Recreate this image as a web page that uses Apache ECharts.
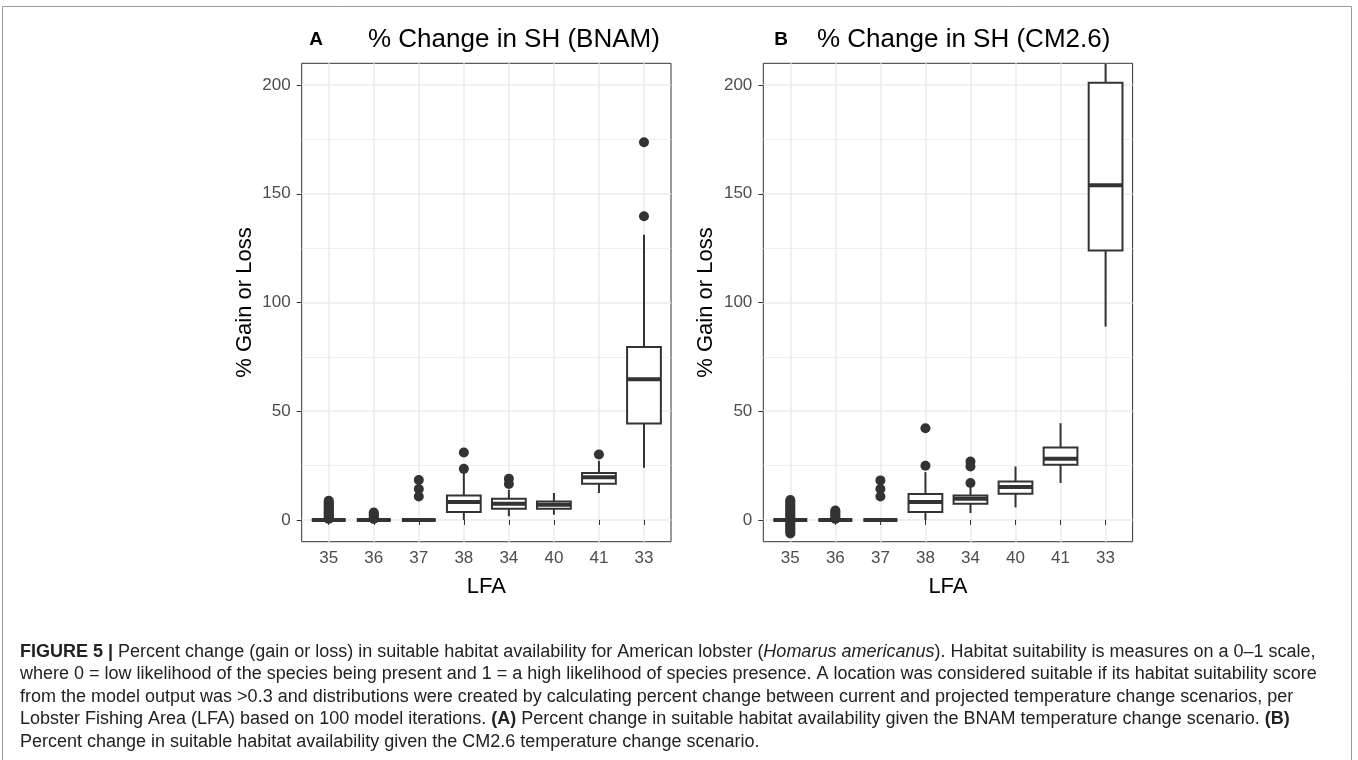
<!DOCTYPE html>
<html>
<head>
<meta charset="utf-8">
<title>Figure 5 - % Change in SH</title>
<script src="https://cdn.jsdelivr.net/npm/echarts@6/dist/echarts.min.js"></script>
<style>
  html, body { margin: 0; padding: 0; background: #fff; }
  #chart { width: 1358px; height: 760px; }
</style>
</head>
<body>
<div id="chart"></div>
<script>
// LFA order on the x axis
const lfa = ["35", "36", "37", "38", "34", "40", "41", "33"];
const yTicks = [0, 50, 100, 150, 200];
const yMinor = [25, 75, 125, 175];

// box stats per LFA: [lower whisker, q1, median, q3, upper whisker]
const boxBNAM = [
  [0, 0, 0, 0, 0],
  [0, 0, 0, 0, 0],
  [0, 0, 0, 0, 0],
  [0, 3.7, 8.3, 11.3, 21.6],
  [1.7, 5.2, 7.5, 9.8, 13.9],
  [2.4, 5.2, 7.0, 8.5, 12.4],
  [12.4, 16.7, 19.6, 21.6, 27.2],
  [24.0, 44.3, 64.7, 79.5, 131.2]
];
const boxCM26 = [
  [0, 0, 0, 0, 0],
  [0, 0, 0, 0, 0],
  [0, 0, 0, 0, 0],
  [0, 3.7, 8.3, 11.9, 22.0],
  [3.2, 7.5, 9.8, 11.3, 15.1],
  [5.8, 12.1, 15.1, 17.7, 24.6],
  [17.0, 25.4, 28.1, 33.3, 44.5],
  [88.9, 123.9, 153.9, 201.1, 210]
];

// outlier points per LFA
const outBNAM = [
  [0.5, 1.1, 1.6, 2.3, 2.9, 3.4, 4.1, 4.7, 5.2, 5.9, 6.5, 7.0, 7.7, 8.3, 8.8],
  [0.4, 1.2, 2.0, 2.7, 3.4],
  [10.8, 14.2, 18.4],
  [23.5, 31.0],
  [16.5, 18.9],
  [],
  [30.1],
  [139.7, 173.7]
];
const outCM26 = [
  [-6.2, -5.4, -4.6, -3.8, -3.0, -2.2, -1.4, -0.6, 0.6, 1.4, 2.2, 3.0, 3.8, 4.6, 5.4, 6.2, 7.0, 7.8, 8.6, 9.2],
  [0.5, 1.3, 2.2, 3.0, 3.8, 4.3],
  [10.8, 14.2, 18.2],
  [24.9, 42.2],
  [17.0, 24.6, 26.9],
  [],
  [],
  []
];

const caption = [
  "{b|FIGURE 5 |} Percent change (gain or loss) in suitable habitat availability for American lobster ({i|Homarus americanus}). Habitat suitability is measures on a 0\u20131 scale,",
  "where 0 = low likelihood of the species being present and 1 = a high likelihood of species presence. A location was considered suitable if its habitat suitability score",
  "from the model output was >0.3 and distributions were created by calculating percent change between current and projected temperature change scenarios, per",
  "Lobster Fishing Area (LFA) based on 100 model iterations. {b|(A)} Percent change in suitable habitat availability given the BNAM temperature change scenario. {b|(B)}",
  "Percent change in suitable habitat availability given the CM2.6 temperature change scenario."
];

const FONT = "'Liberation Sans', Arial, Helvetica, sans-serif";
const INK = "#333333";
const GRID = "#ebebeb";

const panels = [
  { tag: "A", title: "% Change in SH (BNAM)", box: boxBNAM, out: outBNAM, left: 301.7, tagX: 316, titleX: 368 },
  { tag: "B", title: "% Change in SH (CM2.6)", box: boxCM26, out: outCM26, left: 763.3, tagX: 781, titleX: 817 }
];
const plotTop = 63.3, plotH = 478.4, frameW = 369.3;
const step = frameW / 8.2;

const renderBox = (params, api) => {
  const i = api.value(0);
  const lo = api.coord([i, api.value(1)]);
  const q1 = api.coord([i, api.value(2)]);
  const med = api.coord([i, api.value(3)]);
  const q3 = api.coord([i, api.value(4)]);
  const hi = api.coord([i, api.value(5)]);
  const w = api.size([1, 0])[0] * 0.75;
  const x = med[0];
  const line = { stroke: INK, lineWidth: 2 };
  return {
    type: "group",
    children: [
      { type: "line", shape: { x1: x, y1: hi[1], x2: x, y2: q3[1] }, style: line },
      { type: "line", shape: { x1: x, y1: q1[1], x2: x, y2: lo[1] }, style: line },
      { type: "rect", shape: { x: x - w / 2, y: q3[1], width: w, height: q1[1] - q3[1] },
        style: { fill: "#fff", stroke: INK, lineWidth: 2 } },
      { type: "line", shape: { x1: x - w / 2, y1: med[1], x2: x + w / 2, y2: med[1] },
        style: { stroke: INK, lineWidth: 4 } }
    ]
  };
};

const option = {
  animation: false,
  grid: [],
  xAxis: [],
  yAxis: [],
  series: [],
  graphic: []
};

panels.forEach((p, k) => {
  const frameIdx = k * 2, dataIdx = k * 2 + 1;

  // frame grid: border, y axis, horizontal grid lines
  option.grid.push({
    left: p.left, top: plotTop, width: frameW, height: plotH,
    show: true, borderColor: INK, borderWidth: 1, backgroundColor: "transparent",
    outerBoundsMode: "none"
  });
  // data grid: category centres run from the first to the last LFA
  option.grid.push({
    left: p.left + step * 0.6, top: plotTop, width: step * 7, height: plotH,
    outerBoundsMode: "none"
  });

  option.xAxis.push({ gridIndex: frameIdx, type: "value", min: 0, max: 1, show: false });
  option.xAxis.push({
    gridIndex: dataIdx, type: "category", data: lfa, boundaryGap: false,
    name: "LFA", nameLocation: "middle", nameGap: 34,
    nameTextStyle: { fontFamily: FONT, fontSize: 22, color: "#000" },
    axisLine: { show: false },
    axisTick: { show: true, interval: 0, length: 5, lineStyle: { color: INK, width: 1 } },
    axisLabel: { interval: 0, margin: 8, fontFamily: FONT, fontSize: 17, color: "#4d4d4d" },
    splitLine: { show: true, interval: 0, lineStyle: { color: GRID, width: 1.5 } }
  });

  option.yAxis.push({
    gridIndex: frameIdx, type: "value", min: -10, max: 210,
    name: "% Gain or Loss", nameLocation: "middle", nameGap: 46, nameRotate: 90,
    nameTextStyle: { fontFamily: FONT, fontSize: 22, color: "#000" },
    axisLine: { show: false },
    axisTick: { show: true, length: 5, customValues: yTicks, lineStyle: { color: INK, width: 1 } },
    axisLabel: { margin: 11, customValues: yTicks, fontFamily: FONT, fontSize: 17, color: "#4d4d4d" },
    splitLine: { show: true, lineStyle: { color: GRID, width: 1.5 } }
  });
  option.yAxis.push({
    gridIndex: frameIdx, type: "value", min: -10, max: 210, position: "right",
    axisLine: { show: false },
    axisTick: { show: false, customValues: yMinor },
    axisLabel: { show: false },
    splitLine: { show: true, lineStyle: { color: GRID, width: 0.8 } }
  });
  const yData = option.yAxis.length;
  option.yAxis.push({ gridIndex: dataIdx, type: "value", min: -10, max: 210, show: false });

  option.series.push({
    type: "custom",
    xAxisIndex: dataIdx, yAxisIndex: yData,
    renderItem: renderBox,
    encode: { x: 0, y: [1, 2, 3, 4, 5] },
    data: p.box.map((b, i) => [i].concat(b)),
    z: 3,
    silent: true
  });

  const pts = [];
  p.out.forEach((vals, i) => vals.forEach(v => pts.push([i, v])));
  option.series.push({
    type: "scatter",
    xAxisIndex: dataIdx, yAxisIndex: yData,
    data: pts,
    symbolSize: 10,
    itemStyle: { color: INK, opacity: 1 },
    z: 4,
    silent: true
  });

  option.graphic.push({
    type: "text", x: p.tagX, y: 40,
    style: { text: p.tag, fontFamily: FONT, fontSize: 19, fontWeight: "bold", fill: "#000",
             align: "center", verticalAlign: "middle" }
  });
  option.graphic.push({
    type: "text", x: p.titleX, y: 40,
    style: { text: p.title, fontFamily: FONT, fontSize: 26, fill: "#000",
             align: "left", verticalAlign: "middle" }
  });
});

// figure frame
option.graphic.push({
  type: "rect", shape: { x: 2.5, y: 6.5, width: 1349, height: 770 },
  style: { fill: "none", stroke: "#9a9a9a", lineWidth: 1 }, z: -1
});

const capBase = { fontFamily: FONT, fontSize: 18 };
caption.forEach((line, i) => {
  option.graphic.push({
    type: "text", x: 20, y: 652 + i * 22.5,
    style: {
      text: line, fill: "#222", align: "left", verticalAlign: "middle",
      fontFamily: FONT, fontSize: 18,
      rich: {
        b: Object.assign({ fontWeight: "bold", fill: "#222" }, capBase),
        i: Object.assign({ fontStyle: "italic", fill: "#222" }, capBase)
      }
    }
  });
});

const chart = echarts.init(document.getElementById("chart"));
chart.setOption(option);
</script>
</body>
</html>
